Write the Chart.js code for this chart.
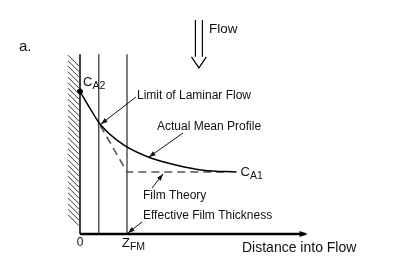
<!DOCTYPE html>
<html><head><meta charset="utf-8">
<script src="https://cdn.jsdelivr.net/npm/chart.js@4/dist/chart.umd.min.js"></script>
<style>html,body{margin:0;padding:0;background:#fff}#wrap{width:403px;height:268px}</style>
</head><body><div id="wrap"><canvas id="c" width="403" height="268"></canvas></div>
<script>
// distance into flow (Z_FM = 1), concentration (C_A1 = 1)
const profileX = [0, 0.21, 0.43, 0.92, 1.49, 2.06, 2.62, 3.33];
const profileY = [2.3, 2.03, 1.77, 1.44, 1.23, 1.11, 1.03, 1.0];
const filmX = [0.43, 1.0, 3.1];
const filmY = [1.75, 1.0, 1.0];
const wallX = 0, laminarX = 0.4, zfmX = 1.0, lineTop = 2.9, axisEnd = 4.8;
const cA2 = 2.3, cA1 = 1.0;
const labels = {
  letter: 'a.', flow: 'Flow', laminar: 'Limit of Laminar Flow', profile: 'Actual Mean Profile',
  film: 'Film Theory', thickness: 'Effective Film Thickness', axis: 'Distance into Flow', zero: '0'
};

const F = '"Liberation Sans", Arial, sans-serif';
const pts = (xs, ys) => xs.map((x, i) => ({x, y: ys[i]}));

const annot = {
  id: 'annot',
  afterDatasetsDraw(chart) {
    const ctx = chart.ctx, sx = chart.scales.x, sy = chart.scales.y;
    const X = v => sx.getPixelForValue(v), Y = v => sy.getPixelForValue(v);
    ctx.save();
    // hatching
    ctx.strokeStyle = '#333'; ctx.lineWidth = 1;
    const x0 = X(wallX) - 1, top = Y(lineTop) + 1, bot = Y(0) - 7;
    ctx.beginPath();
    for (let y = top; y + 11 <= bot; y += 5.5) { ctx.moveTo(x0 - 11, y); ctx.lineTo(x0, y + 11); }
    ctx.stroke();
    function arrow(x1, y1, x2, y2, size, w) {
      ctx.strokeStyle = '#111'; ctx.fillStyle = '#111'; ctx.lineWidth = w || 1;
      ctx.beginPath(); ctx.moveTo(x1, y1); ctx.lineTo(x2, y2); ctx.stroke();
      const a = Math.atan2(y2 - y1, x2 - x1), s = size || 6;
      ctx.beginPath(); ctx.moveTo(x2, y2);
      ctx.lineTo(x2 - s * Math.cos(a - 0.35), y2 - s * Math.sin(a - 0.35));
      ctx.lineTo(x2 - s * Math.cos(a + 0.35), y2 - s * Math.sin(a + 0.35));
      ctx.closePath(); ctx.fill();
    }
    // axis arrowhead
    ctx.fillStyle = '#000';
    const ax = X(axisEnd), ay = Y(0);
    ctx.beginPath(); ctx.moveTo(ax + 2, ay); ctx.lineTo(ax - 6, ay - 3); ctx.lineTo(ax - 6, ay + 3); ctx.closePath(); ctx.fill();
    // flow double arrow
    const fx = X(2.53), fy1 = Y(3.45), fy2 = Y(2.68);
    ctx.strokeStyle = '#000'; ctx.lineWidth = 1.2;
    ctx.beginPath();
    ctx.moveTo(fx - 3.5, fy1); ctx.lineTo(fx - 3.5, fy2 - 11);
    ctx.moveTo(fx + 3.5, fy1); ctx.lineTo(fx + 3.5, fy2 - 11);
    ctx.moveTo(fx - 7.5, fy2 - 11); ctx.lineTo(fx, fy2); ctx.lineTo(fx + 7.5, fy2 - 11);
    ctx.stroke();
    // pointer arrows
    arrow(136, 97, 101, 124, 7);
    arrow(183, 133, 149, 157, 7);
    arrow(152, 188, 163, 174, 7);
    arrow(142, 222, 128, 233, 7);
    // texts
    ctx.fillStyle = '#111'; ctx.textBaseline = 'middle'; ctx.textAlign = 'left';
    ctx.font = '15px ' + F; ctx.fillText(labels.letter, 19, 47);
    ctx.font = '13.5px ' + F; ctx.fillText(labels.flow, fx + 10, Y(3.3));
    ctx.font = '12px ' + F;
    ctx.fillText(labels.laminar, 137, 96);
    ctx.fillText(labels.profile, 157, 127);
    ctx.fillText(labels.film, 143, 196);
    ctx.fillText(labels.thickness, 143, 216);
    ctx.font = '14px ' + F; ctx.fillText(labels.axis, 242, 248);
    ctx.font = '12px ' + F; ctx.textAlign = 'center'; ctx.fillText(labels.zero, X(0), 243);
    ctx.textAlign = 'left';
    function sub(main, s, x, y) {
      ctx.font = '13px ' + F; ctx.fillText(main, x, y);
      const w = ctx.measureText(main).width;
      ctx.font = '10.5px ' + F; ctx.fillText(s, x + w, y + 4);
    }
    sub('C', 'A2', X(wallX) + 3, Y(cA2) - 9);
    sub('C', 'A1', X(3.33) + 4, Y(cA1));
    sub('Z', 'FM', X(zfmX) - 5, 243);
    ctx.restore();
  }
};

new Chart(document.getElementById('c'), {
  type: 'scatter',
  data: {
    datasets: [
      { data: pts(profileX, profileY), showLine: true, borderColor: '#000', borderWidth: 1.5, pointRadius: 0, cubicInterpolationMode: 'monotone' },
      { data: pts(filmX, filmY), showLine: true, borderColor: '#555', borderWidth: 1.6, borderDash: [8, 5], pointRadius: 0 },
      { data: [{x: wallX, y: 0}, {x: wallX, y: lineTop}], showLine: true, borderColor: '#000', borderWidth: 1.5, pointRadius: 0 },
      { data: [{x: laminarX, y: 0}, {x: laminarX, y: lineTop}], showLine: true, borderColor: '#000', borderWidth: 1, pointRadius: 0 },
      { data: [{x: zfmX, y: 0}, {x: zfmX, y: lineTop}], showLine: true, borderColor: '#000', borderWidth: 1, pointRadius: 0 },
      { data: [{x: wallX, y: 0}, {x: axisEnd, y: 0}], showLine: true, borderColor: '#000', borderWidth: 2.5, pointRadius: 0 },
      { data: [{x: wallX, y: cA2}], pointRadius: 2.5, pointBackgroundColor: '#000', pointBorderColor: '#000' }
    ]
  },
  options: {
    responsive: false, animation: false, devicePixelRatio: 1,
    layout: { padding: 0, autoPadding: false },
    plugins: { legend: { display: false }, tooltip: { enabled: false } },
    scales: {
      x: { type: 'linear', min: -80 / 47, max: 323 / 47, display: false },
      y: { type: 'linear', min: -34 / 62, max: 234 / 62, display: false }
    }
  },
  plugins: [annot]
});
</script></body></html>
